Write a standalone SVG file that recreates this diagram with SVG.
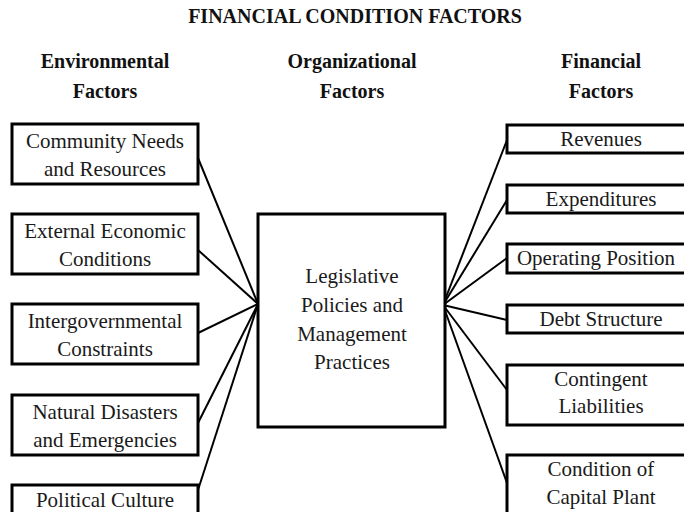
<svg xmlns="http://www.w3.org/2000/svg" width="684" height="512" viewBox="0 0 684 512">
<style>
  .bg { fill: #ffffff; }
  .box { fill: #ffffff; stroke: #000000; stroke-width: 3; }
  .lbl { font-family: "Liberation Serif", "Times New Roman", serif; font-size: 21px; fill: #1a1a1a; text-anchor: middle; }
  .hd { font-family: "Liberation Serif", "Times New Roman", serif; font-size: 20px; font-weight: bold; fill: #111111; text-anchor: middle; }
  .conn line { stroke: #000000; stroke-width: 2; }
</style>
<rect class="bg" x="0" y="0" width="684" height="512"/>

<g id="title">
  <text class="hd" x="355" y="23">FINANCIAL CONDITION FACTORS</text>
</g>
<g id="heading-environmental">
  <text class="hd" x="105" y="68">Environmental</text>
  <text class="hd" x="105" y="98">Factors</text>
</g>
<g id="heading-organizational">
  <text class="hd" x="352" y="68">Organizational</text>
  <text class="hd" x="352" y="98">Factors</text>
</g>
<g id="heading-financial">
  <text class="hd" x="601" y="68">Financial</text>
  <text class="hd" x="601" y="98">Factors</text>
</g>

<g class="conn" id="connectors">
  <line x1="198" y1="158" x2="258" y2="304"/>
  <line x1="198" y1="250" x2="258" y2="304"/>
  <line x1="198" y1="333" x2="258" y2="304"/>
  <line x1="198" y1="423" x2="258" y2="304"/>
  <line x1="198" y1="490" x2="258" y2="304"/>
  <line x1="443" y1="305" x2="507" y2="140"/>
  <line x1="443" y1="305" x2="507" y2="200"/>
  <line x1="443" y1="305" x2="507" y2="258"/>
  <line x1="443" y1="305" x2="507" y2="320"/>
  <line x1="443" y1="305" x2="507" y2="390"/>
  <line x1="443" y1="305" x2="507" y2="483"/>
</g>

<g id="community-needs">
  <rect class="box" x="12" y="124" width="186" height="60"/>
  <text class="lbl" x="105" y="148">Community Needs</text>
  <text class="lbl" x="105" y="176">and Resources</text>
</g>
<g id="external-economic">
  <rect class="box" x="12" y="214" width="186" height="60"/>
  <text class="lbl" x="105" y="238">External Economic</text>
  <text class="lbl" x="105" y="266">Conditions</text>
</g>
<g id="intergovernmental">
  <rect class="box" x="12" y="304" width="186" height="60"/>
  <text class="lbl" x="105" y="328">Intergovernmental</text>
  <text class="lbl" x="105" y="356">Constraints</text>
</g>
<g id="natural-disasters">
  <rect class="box" x="12" y="395" width="186" height="60"/>
  <text class="lbl" x="105" y="419">Natural Disasters</text>
  <text class="lbl" x="105" y="447">and Emergencies</text>
</g>
<g id="political-culture">
  <rect class="box" x="12" y="485" width="186" height="60"/>
  <text class="lbl" x="105" y="507">Political Culture</text>
</g>

<g id="legislative-policies">
  <rect class="box" x="258" y="214" width="187" height="213"/>
  <text class="lbl" x="352" y="283">Legislative</text>
  <text class="lbl" x="352" y="312">Policies and</text>
  <text class="lbl" x="352" y="341">Management</text>
  <text class="lbl" x="352" y="369">Practices</text>
</g>

<g id="revenues">
  <rect class="box" x="507" y="125" width="186" height="28"/>
  <text class="lbl" x="601" y="146">Revenues</text>
</g>
<g id="expenditures">
  <rect class="box" x="507" y="185" width="186" height="28"/>
  <text class="lbl" x="601" y="206">Expenditures</text>
</g>
<g id="operating-position">
  <rect class="box" x="507" y="244" width="186" height="29"/>
  <text class="lbl" x="596" y="265">Operating Position</text>
</g>
<g id="debt-structure">
  <rect class="box" x="507" y="305" width="186" height="28"/>
  <text class="lbl" x="601" y="326">Debt Structure</text>
</g>
<g id="contingent-liabilities">
  <rect class="box" x="507" y="365" width="186" height="60"/>
  <text class="lbl" x="601" y="386">Contingent</text>
  <text class="lbl" x="601" y="413">Liabilities</text>
</g>
<g id="capital-plant">
  <rect class="box" x="507" y="455" width="186" height="70"/>
  <text class="lbl" x="601" y="476">Condition of</text>
  <text class="lbl" x="601" y="504">Capital Plant</text>
</g>
</svg>
